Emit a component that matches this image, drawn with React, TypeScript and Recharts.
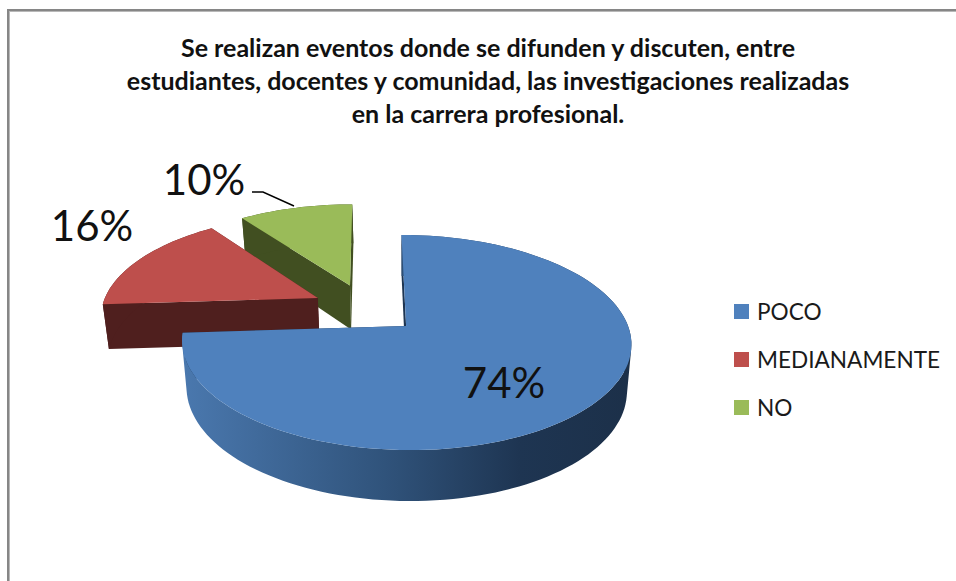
import React from "react";
import { PieChart, Pie, Legend } from "recharts";

// drawn back to front, so the order is the reverse of the legend
const categories = ["NO", "MEDIANAMENTE", "POCO"];
const values = [10, 16, 74];
const topColors = ["#9abb59", "#be4f4c", "#4f81bd"];
const wallColors = ["#414f21", "#4f1f1e", "url(#pocoWall)"];
const titleLines = [
  "Se realizan eventos donde se difunden y discuten, entre",
  "estudiantes, docentes y comunidad, las investigaciones realizadas",
  "en la carrera profesional.",
];

const chartData = categories.map((name, i) => ({
  name,
  value: values[i],
  fill: topColors[i],
  wall: wallColors[i],
}));

const FONT = "Lato, sans-serif";

// perspective of the pie floor, fitted to the reference
const CX = 406;
const CY = 326;
const RX = 222;
const RY = 105;
const PERSP = 0.1535;
const SKEW = 4.5;
const EXPLODE = 0.25;
const ORIGIN_A = -0.182;
const ORIGIN_B = -0.171;

type Pt = { x: number; y: number };

function project(a: number, b: number) {
  const w = 1 - PERSP * b;
  return { x: CX + SKEW * b + (RX * a) / w, y: CY + (RY * b) / w };
}

function projectLow(a: number, b: number) {
  const p = project(a, b);
  return { x: 405 + (p.x - 405) * 0.98, y: p.y + 46 + 5 * b };
}

const toPath = (pts: Pt[]) =>
  "M" + pts.map((p) => `${p.x.toFixed(1)},${p.y.toFixed(1)}`).join("L") + "Z";

// all quads wound the same way, otherwise the back and front of the rim cancel out at the sides
function sameWinding(pts: Pt[]) {
  let area = 0;
  pts.forEach((p, i) => {
    const q = pts[(i + 1) % pts.length];
    area += p.x * q.y - q.x * p.y;
  });
  return area < 0 ? pts.slice().reverse() : pts;
}

function Slice3D(props: any) {
  const { startAngle, endAngle, fill, payload } = props;
  const mid = (((startAngle + endAngle) / 2) * Math.PI) / 180;
  const oa = ORIGIN_A + EXPLODE * Math.cos(mid);
  const ob = ORIGIN_B - EXPLODE * Math.sin(mid);

  const rim: [number, number][] = [];
  for (let d = startAngle; d < endAngle; d += 2) {
    const r = (d * Math.PI) / 180;
    rim.push([oa + Math.cos(r), ob - Math.sin(r)]);
  }
  const end = (endAngle * Math.PI) / 180;
  rim.push([oa + Math.cos(end), ob - Math.sin(end)]);

  const top = rim.map(([a, b]) => project(a, b));
  const low = rim.map(([a, b]) => projectLow(a, b));
  const tipTop = project(oa, ob);
  const tipLow = projectLow(oa, ob);
  const wall = payload.wall ?? props.wall;
  const sideColor = payload.name === "POCO" ? "#1e3552" : wall;

  const rimWall = top
    .slice(1)
    .map((p, i) => toPath(sameWinding([top[i], p, low[i + 1], low[i]])))
    .join("");

  return (
    <g>
      <defs>
        <linearGradient id="pocoWall" gradientUnits="userSpaceOnUse" x1="183" y1="0" x2="632" y2="0">
          <stop offset="0" stopColor="#4a78ae" />
          <stop offset="0.45" stopColor="#30537b" />
          <stop offset="0.75" stopColor="#1e3552" />
          <stop offset="1" stopColor="#1c3049" />
        </linearGradient>
      </defs>
      <path d={toPath([tipTop, top[0], low[0], tipLow])} fill={sideColor} />
      <path d={toPath([tipTop, top[top.length - 1], low[low.length - 1], tipLow])} fill={sideColor} />
      <path d={rimWall} fill={wall} />
      <path d={toPath([tipTop, ...top])} fill={fill} />
    </g>
  );
}

const labelAnchors: Record<string, Pt> = {
  POCO: { x: 504, y: 398 },
  MEDIANAMENTE: { x: 92, y: 241 },
  NO: { x: 204, y: 195 },
};

function PercentLabel(props: any) {
  const { name, percent } = props;
  const at = labelAnchors[name];
  return (
    <g>
      {name === "NO" && <path d="M252,192H263L294,206" fill="none" stroke="#000" strokeWidth={1.4} />}
      <text x={at.x} y={at.y} textAnchor="middle" fontFamily={FONT} fontSize={42} fill="#111">
        {Math.round(percent * 100)}%
      </text>
    </g>
  );
}

function LegendBox({ payload }: any) {
  const rows = [...(payload ?? [])].reverse();
  return (
    <div style={{ fontFamily: FONT, fontSize: 22.6, color: "#1a1a1a" }}>
      {rows.map((row: any) => (
        <div key={row.value} style={{ display: "flex", alignItems: "center", height: 48 }}>
          <span style={{ width: 15, height: 15, marginRight: 8, background: row.color ?? row.payload.fill }} />
          {row.value}
        </div>
      ))}
    </div>
  );
}

export default function App() {
  return (
    <div style={{ position: "absolute", left: 0, top: 0, width: 956, height: 581, overflow: "hidden", background: "#fff" }}>
      <div
        style={{
          position: "absolute",
          left: 7,
          top: 9,
          width: 960,
          height: 600,
          borderLeft: "2px solid #868686",
          borderTop: "2px solid #868686",
          boxShadow: "inset 1px 1px 0 #b8b8b8",
        }}
      />
      <PieChart width={956} height={581} style={{ position: "absolute", left: 0, top: 0 }}>
        {titleLines.map((line, i) => (
          <text
            key={line}
            x={488}
            y={[57, 90, 123][i]}
            textAnchor="middle"
            fontFamily={FONT}
            fontWeight={700}
            fontSize={25}
            fill="#111"
          >
            {line}
          </text>
        ))}
        <Pie
          data={chartData}
          dataKey="value"
          nameKey="name"
          cx={405}
          cy={326}
          outerRadius={200}
          startAngle={90}
          endAngle={450}
          stroke="none"
          shape={Slice3D}
          inactiveShape={Slice3D}
          label={PercentLabel}
          labelLine={false}
          isAnimationActive={false}
        />
        <Legend
          layout="vertical"
          align="right"
          verticalAlign="top"
          itemSorter={null}
          content={LegendBox}
          wrapperStyle={{ position: "absolute", left: 734, top: 287, width: 220 }}
        />
      </PieChart>
    </div>
  );
}
